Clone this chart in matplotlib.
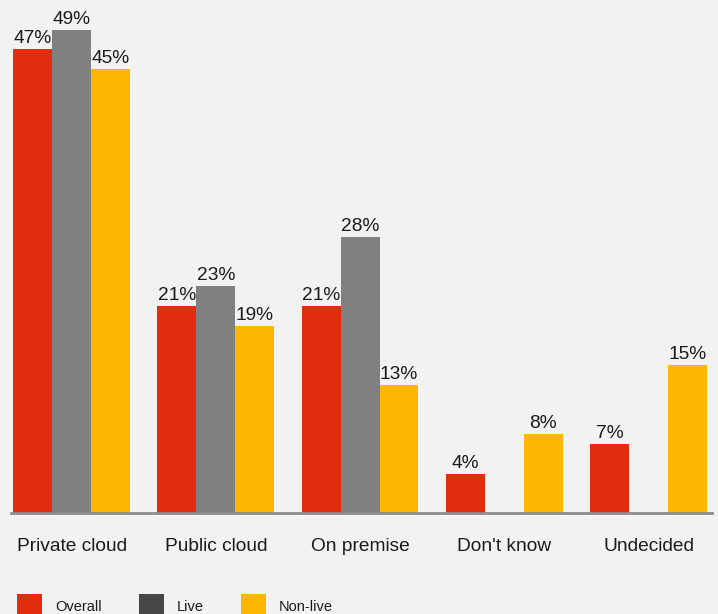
import numpy as np
import matplotlib
matplotlib.use("Agg")
import matplotlib.pyplot as plt
from matplotlib.patches import Rectangle

categories = ["Private cloud", "Public cloud", "On premise", "Don't know", "Undecided"]
overall = [47, 21, 21, 4, 7]
live = [49, 23, 28, None, None]
non_live = [45, 19, 13, 8, 15]

series = [
    ("Overall", overall, "#e12d0e", "#e12d0e"),
    ("Live", live, "#808080", "#474747"),
    ("Non-live", non_live, "#ffb600", "#ffb600"),
]

plt.rcParams['font.family'] = ['Liberation Sans', 'DejaVu Sans']
bg = "#f2f2f2"

W, H = 718, 614
fig = plt.figure(figsize=(W / 100, H / 100), dpi=100, facecolor=bg)
ax = fig.add_axes([11 / W, (H - 513) / H, 701 / W, 513 / H])
ax.set_facecolor(bg)

x = np.arange(len(categories))
bw = 0.27
for k, (name, vals, col, _) in enumerate(series):
    off = (k - 1) * bw
    for i, v in enumerate(vals):
        if v is None:
            continue
        ax.bar(x[i] + off, v, width=bw, color=col, linewidth=0)
        ax.text(x[i] + off, v + 0.2, f"{v}%", ha='center', va='bottom',
                fontsize=13.8, color='#1a1a1a')

ax.set_xlim(-0.42, 4.44)
ax.set_ylim(0, 52)
for s in ['top', 'right', 'left']:
    ax.spines[s].set_visible(False)
ax.spines['bottom'].set_color('#8c8c8c')
ax.spines['bottom'].set_linewidth(2)
ax.set_yticks([])
ax.set_xticks(x)
ax.set_xticklabels(categories, fontsize=13.8, color='#1a1a1a')
ax.tick_params(axis='x', length=0, pad=18)

# legend drawn by hand along the bottom edge
legend_x = [17, 139, 241]
for (name, _, _, lcol), lx in zip(series, legend_x):
    fig.patches.append(Rectangle((lx / W, 0), 25 / W, 20 / H, transform=fig.transFigure,
                                 facecolor=lcol, edgecolor='none'))
    fig.text((lx + 38) / W, 7 / H, name, fontsize=10.5, va='center', ha='left', color='#1a1a1a')

fig.savefig("out.png", dpi=100, facecolor=bg)
